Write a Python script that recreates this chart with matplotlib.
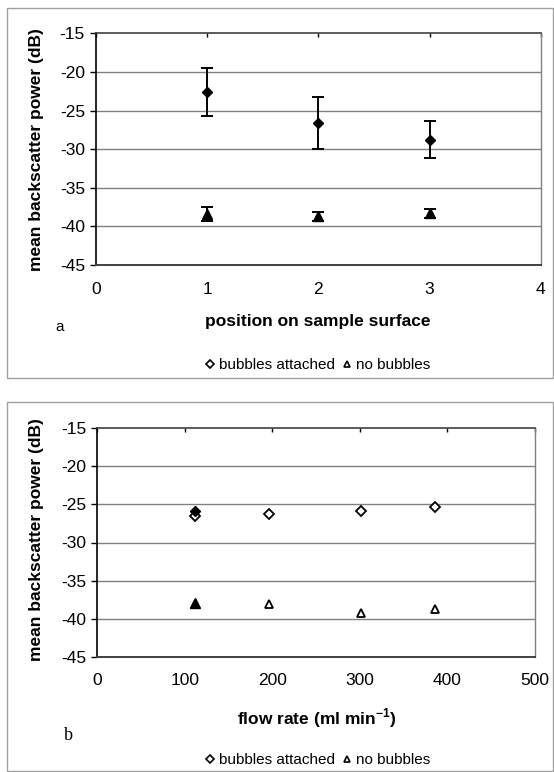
import matplotlib
matplotlib.use("Agg")
import matplotlib.pyplot as plt
from matplotlib.lines import Line2D
from matplotlib.patches import Rectangle

plt.rcParams['font.family'] = ['Liberation Sans', 'DejaVu Sans']
plt.rcParams['mathtext.fontset'] = 'custom'
plt.rcParams['mathtext.rm'] = 'Liberation Sans'
plt.rcParams['mathtext.bf'] = 'Liberation Sans:bold'

# (a) backscatter at three positions on the sample surface
positions = [1, 2, 3]
attached_a = [-22.6, -26.6, -28.8]
attached_a_err = [3.1, 3.35, 2.4]
nobubbles_a = [-38.4, -38.7, -38.3]
nobubbles_a_err = [0.9, 0.6, 0.6]

# (b) backscatter versus flow rate
flow_rate = [112, 196, 301, 386]
attached_b = [-26.5, -26.2, -25.8, -25.4]
nobubbles_b = [-38.1, -38.1, -39.3, -38.8]
# repeat measurement at the lowest flow rate (solid markers)
flow_rate_solid = [112]
attached_b_solid = [-25.8]
nobubbles_b_solid = [-37.9]

y_ticks = [-45, -40, -35, -30, -25, -20, -15]
xa_ticks = [0, 1, 2, 3, 4]
xb_ticks = [0, 100, 200, 300, 400, 500]

W, H = 554, 772
fig = plt.figure(figsize=(W / 100, H / 100), dpi=100)


def fx(px):
    return px / W


def fy(py):
    return 1 - py / H


def style_axes(ax, xticks, xlim):
    ax.set_ylim(-45, -15)
    ax.set_xlim(*xlim)
    ax.set_yticks(y_ticks)
    ax.set_xticks(xticks)
    ax.set_yticklabels([str(v) for v in y_ticks])
    for y in y_ticks[1:-1]:
        ax.axhline(y, color='#808080', lw=1.0, zorder=1)
    ax.spines['left'].set_color('black')
    ax.spines['left'].set_linewidth(1.2)
    ax.spines['bottom'].set_color('#404040')
    ax.spines['bottom'].set_linewidth(1.4)
    ax.spines['top'].set_color('#404040')
    ax.spines['top'].set_linewidth(1.2)
    ax.spines['right'].set_color('#808080')
    ax.spines['right'].set_linewidth(1.0)
    ax.tick_params(axis='y', direction='out', length=4, width=1, pad=4,
                   labelsize=12.5)
    ax.tick_params(axis='x', bottom=False, top=True, direction='in',
                   length=3, width=1, labelsize=12.5, pad=12)


def legend_row(cx, cy):
    handles = [
        Line2D([], [], ls='none', marker='D', ms=4, mfc='white',
               mec='black', mew=1.2),
        Line2D([], [], ls='none', marker='^', ms=5, mfc='white',
               mec='black', mew=1.2),
    ]
    fig.legend(handles, ['bubbles attached', 'no bubbles'], ncol=2,
               loc='center', bbox_to_anchor=(fx(cx), fy(cy)), frameon=False,
               fontsize=11, handlelength=0.6, handletextpad=0.3,
               columnspacing=0.5, borderpad=0)


# outer panel frames
for (x0, y0, x1, y1) in [(7, 8, 553, 378), (7, 402, 553, 771)]:
    fig.patches.append(Rectangle((fx(x0), fy(y1)), fx(x1 - x0),
                                 (y1 - y0) / H, fill=False,
                                 edgecolor='#a0a0a0', lw=1.0,
                                 transform=fig.transFigure, zorder=0))

# ---- panel a ----
axa = fig.add_axes([fx(96), fy(265), fx(540.7 - 96), (265 - 33.3) / H])
style_axes(axa, xa_ticks, (0, 4))
axa.errorbar(positions, attached_a, yerr=attached_a_err, fmt='D', ms=5,
             color='black', ecolor='black', elinewidth=1.4, capsize=4.5,
             capthick=1.4, zorder=3)
axa.errorbar(positions, nobubbles_a, yerr=nobubbles_a_err, fmt='^', ms=7,
             color='black', ecolor='black', elinewidth=1.4, capsize=4.5,
             capthick=1.4, zorder=3)
fig.text(fx(37), fy(150), 'mean backscatter power (dB)', rotation=90,
         ha='center', va='center', fontsize=12.5, fontweight='bold')
fig.text(fx(318), fy(321.7), 'position on sample surface', ha='center',
         va='center', fontsize=12.5, fontweight='bold')
fig.text(fx(60), fy(327), 'a', ha='center', va='center', fontsize=11)
legend_row(318, 365)

# ---- panel b ----
axb = fig.add_axes([fx(97.3), fy(656.7), fx(534.7 - 97.3),
                    (656.7 - 428.3) / H])
style_axes(axb, xb_ticks, (0, 500))
axb.plot(flow_rate, attached_b, ls='none', marker='D', ms=5, mfc='white',
         mec='black', mew=1.3, zorder=3)
axb.plot(flow_rate, nobubbles_b, ls='none', marker='^', ms=6, mfc='white',
         mec='black', mew=1.3, zorder=3)
axb.plot(flow_rate_solid, attached_b_solid, ls='none', marker='D', ms=5,
         color='black', zorder=4)
axb.plot(flow_rate_solid, nobubbles_b_solid, ls='none', marker='^', ms=7,
         color='black', zorder=4)
fig.text(fx(37), fy(540), 'mean backscatter power (dB)', rotation=90,
         ha='center', va='center', fontsize=12.5, fontweight='bold')
fig.text(fx(317), fy(718), r'flow rate (ml min$^{\mathbf{-1}}$)',
         ha='center', va='center', fontsize=12.5, fontweight='bold')
fig.text(fx(68), fy(735), 'b', ha='center', va='center', fontsize=13,
         family=['Liberation Serif', 'DejaVu Serif'])
legend_row(318, 760)

fig.savefig('out.png', dpi=100, facecolor='white')
